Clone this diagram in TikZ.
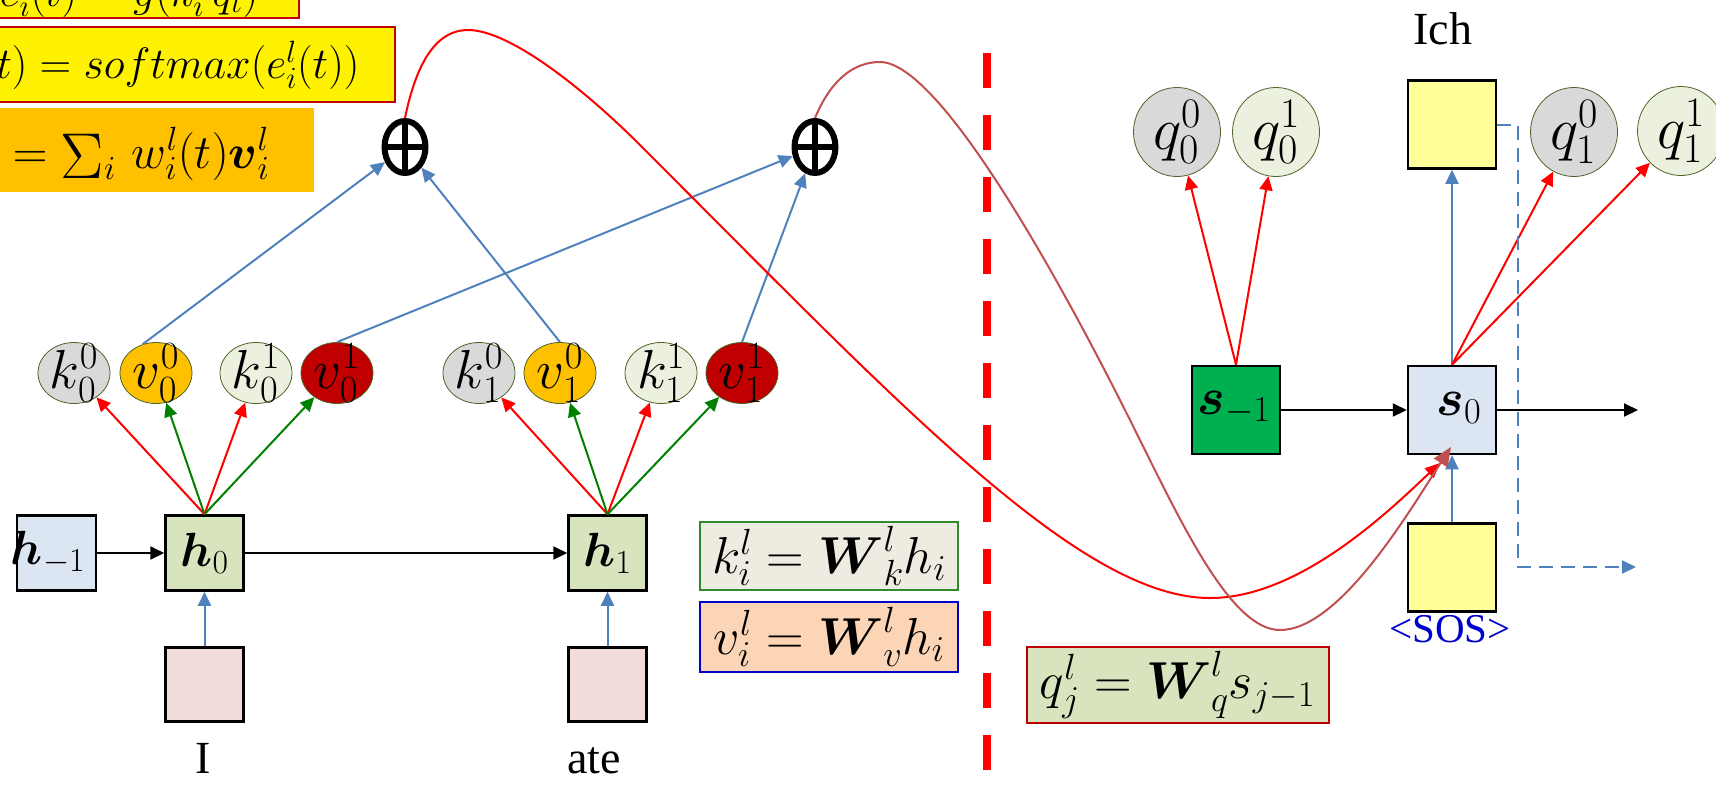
\documentclass[tikz,border=0pt]{standalone}
\usepackage{fix-cm}
\usepackage{amsmath}
\usepackage{fontspec}
\newfontfamily\tnr{Liberation Serif}
\usetikzlibrary{arrows.meta,shapes.geometric}
\newcommand\fsz[1]{\fontsize{#1}{#1}\selectfont}
\definecolor{cblue}{HTML}{4F81BD}
\definecolor{cred}{HTML}{FF0000}
\definecolor{cgreen}{HTML}{008000}
\definecolor{cbrown}{HTML}{C0504D}
\definecolor{kgray}{HTML}{D9D9D9}
\definecolor{vorange}{HTML}{FFC000}
\definecolor{klight}{HTML}{EBF1DE}
\definecolor{vdark}{HTML}{C00000}
\definecolor{olivec}{HTML}{4F6228}
\definecolor{hblue}{HTML}{DCE6F2}
\definecolor{hgreen}{HTML}{D7E4BD}
\definecolor{sgreen}{HTML}{00B050}
\definecolor{ylw}{HTML}{FFFF99}
\definecolor{pinkc}{HTML}{F2DCDB}
\definecolor{kboxc}{HTML}{EEECE1}
\definecolor{vboxc}{HTML}{FBD5B5}
\definecolor{kborder}{HTML}{2E8B2E}
\definecolor{sosblue}{HTML}{0000CC}
\begin{document}
\begin{tikzpicture}[x=1pt,y=-1pt,
  ell/.style={ellipse, draw=olivec, line width=0.8pt, minimum width=72pt, minimum height=61pt, inner sep=0pt},
  qel/.style={ellipse, draw=olivec, line width=0.8pt, minimum width=87pt, minimum height=89pt, inner sep=0pt},
  sqbox/.style={rectangle, draw=black, line width=2.5pt, inner sep=0pt},
  fbox/.style={rectangle, line width=2pt, inner sep=0pt},
  tip/.style={-{Triangle[length=14pt,width=13pt]}},
  blk/.style={tip, color=black, line width=2pt},
  blu/.style={tip, color=cblue, line width=2pt},
  rd/.style={tip, color=cred, line width=2pt},
  gr/.style={tip, color=cgreen, line width=2pt},
  oplus/.style={ellipse, draw=black, line width=6pt, minimum width=41pt, minimum height=52pt, inner sep=0pt,
    path picture={\draw[line width=6pt] (path picture bounding box.north) -- (path picture bounding box.south)
      (path picture bounding box.west) -- (path picture bounding box.east);}},
  elab/.style={inner sep=0pt, font=\fsz{55}},
  qlab/.style={inner sep=0pt, font=\fsz{60}},
  hlab/.style={font=\fsz{48}},
  slab/.style={font=\fsz{52}},
  wlab/.style={font=\tnr\fsz{46}},
]
\useasboundingbox (0,0) rectangle (1716,796);
\clip (0,0) rectangle (1716,796);

% ---------- top-left formula boxes ----------
\node[fbox, draw=vdark, fill=yellow, minimum width=420pt, minimum height=80pt, anchor=south east] (f1) at (300,19) {};
\node[anchor=base east, font=\fsz{44}] (f1t) at (262,6) {$e_i^l(t) = g(k_i^l\, q_t)$};
\node[fbox, draw=vdark, fill=yellow, minimum width=480pt, minimum height=75pt, anchor=north east] (f2) at (396,26) {};
\node[anchor=base east, font=\fsz{44}] (f2t) at (363,78) {$w_i^l(t) = softmax(e_i^l(t))$};
\node[fbox, fill=vorange, minimum width=420pt, minimum height=84pt, anchor=north east] (f3) at (315,107) {};
\node[anchor=base east, font=\fsz{48}] (f3t) at (273,168) {$c^l(t) = \mathop{\vcenter{\hbox{\scalebox{1.35}{$\Sigma$}}}}\nolimits_i\, w_i^l(t)\boldsymbol{v}_i^l$};

% ---------- red dashed separator ----------
\draw[cred, line width=8pt, dash pattern=on 35pt off 27pt] (987,53) -- (987,820);

% ---------- oplus nodes ----------
\node[oplus] (op1) at (405,147) {};
\node[oplus] (op2) at (815,147) {};

% ---------- key / value ellipses ----------
\node[ell, fill=kgray]   (k00) at (74,373) {};
\node[ell, fill=vorange] (v00) at (156,373) {};
\node[ell, fill=klight]  (k01) at (256,373) {};
\node[ell, fill=vdark]   (v01) at (337,373) {};
\node[ell, fill=kgray]   (k10) at (479,373) {};
\node[ell, fill=vorange] (v10) at (560,373) {};
\node[ell, fill=klight]  (k11) at (661,373) {};
\node[ell, fill=vdark]   (v11) at (742,373) {};
\node[elab] (k00t) at (k00) {$k_0^0$};
\node[elab] (v00t) at (v00) {$v_0^0$};
\node[elab] (k01t) at (k01) {$k_0^1$};
\node[elab] (v01t) at (v01) {$v_0^1$};
\node[elab] (k10t) at (k10) {$k_1^0$};
\node[elab] (v10t) at (v10) {$v_1^0$};
\node[elab] (k11t) at (k11) {$k_1^1$};
\node[elab] (v11t) at (v11) {$v_1^1$};

% ---------- encoder boxes ----------
\node[sqbox, fill=hblue,  minimum width=79pt, minimum height=75pt] (hm1) at (56.5,553) {};
\node[hlab] (hm1t) at (48,553) {$\boldsymbol{h}_{-1}$};
\node[sqbox, fill=hgreen, minimum width=78pt, minimum height=75pt] (h0) at (204.5,553) {};
\node[hlab] (h0t) at (h0) {$\boldsymbol{h}_0$};
\node[sqbox, fill=hgreen, minimum width=78pt, minimum height=75pt] (h1) at (607.5,553) {};
\node[hlab] (h1t) at (h1) {$\boldsymbol{h}_1$};
\node[sqbox, fill=pinkc, minimum width=78pt, minimum height=74pt] (xI) at (204.5,684.5) {};
\node[sqbox, fill=pinkc, minimum width=78pt, minimum height=74pt] (xate) at (607.5,684.5) {};
\node[wlab, anchor=base] (tI) at (203,773) {I};
\node[wlab, anchor=base] (tate) at (594,773) {ate};

\draw[blk] (hm1) -- (h0);
\draw[blk] (h0) -- (h1);
\draw[blu] (xI) -- (h0);
\draw[blu] (xate) -- (h1);

% fans
\draw[rd] (h0.north) -- (k00);
\draw[gr] (h0.north) -- (v00);
\draw[rd] (h0.north) -- (k01);
\draw[gr] (h0.north) -- (v01);
\draw[rd] (h1.north) -- (k10);
\draw[gr] (h1.north) -- (v10);
\draw[rd] (h1.north) -- (k11);
\draw[gr] (h1.north) -- (v11);

% values to oplus
\draw[blu] (v00.115) -- (op1);
\draw[blu] (v10.north) -- (op1);
\draw[blu] (v01.north) -- (op2);
\draw[blu] (v11.north) -- (op2);

% ---------- formula boxes ----------
\node[fbox, draw=kborder, fill=kboxc, minimum width=258pt, minimum height=68pt] (kf) at (829,556) {};
\node[font=\fsz{52}] (kft) at (kf) {$k_i^l = \boldsymbol{W}_k^l h_i$};
\node[fbox, draw=sosblue, fill=vboxc, minimum width=258pt, minimum height=70pt] (vf) at (829,637) {};
\node[font=\fsz{52}] (vft) at (vf) {$v_i^l = \boldsymbol{W}_v^l h_i$};
\node[fbox, draw=vdark, fill=hgreen, minimum width=302pt, minimum height=76pt] (qf) at (1177.5,685) {};
\node[font=\fsz{52}] (qft) at (qf) {$q_j^l = \boldsymbol{W}_q^l s_{j-1}$};

% ---------- decoder ----------
\node[qel, fill=kgray]  (q00) at (1177,132) {};
\node[qel, fill=klight] (q01) at (1276,132) {};
\node[qel, fill=kgray]  (q10) at (1574,132) {};
\node[qel, fill=klight] (q11) at (1681,131) {};
\node[qlab] (q00t) at (q00) {$q_0^0$};
\node[qlab] (q01t) at (q01) {$q_0^1$};
\node[qlab] (q10t) at (q10) {$q_1^0$};
\node[qlab] (q11t) at (q11) {$q_1^1$};

\node[sqbox, fill=sgreen, minimum width=88pt, minimum height=88pt] (sm1) at (1236,410) {};
\node[slab] (sm1t) at (1234,408) {$\boldsymbol{s}_{-1}$};
\node[sqbox, fill=hblue, minimum width=88pt, minimum height=88pt] (s0) at (1452,410) {};
\node[slab] (s0t) at (1459,408) {$\boldsymbol{s}_0$};
\node[sqbox, fill=ylw, minimum width=88pt, minimum height=88pt] (ich) at (1452,124.5) {};
\node[sqbox, fill=ylw, minimum width=88pt, minimum height=88pt] (sos) at (1452,567.5) {};
\node[wlab, anchor=base] (tich) at (1443,44) {Ich};
\node[font=\tnr\fsz{41}, text=sosblue, anchor=base] (tsos) at (1450,642) {<SOS>};

\coordinate (s0out) at (1638,410);
\coordinate (dashend) at (1636,567);
\draw[blk] (sm1) -- (s0);
\draw[blk] (s0) -- (s0out);
\draw[blu] (sos) -- (s0);
\draw[blu] (s0) -- (ich);
\draw[rd] (sm1.north) -- (q00);
\draw[rd] (sm1.north) -- (q01);
\draw[rd] (s0.north) -- (q10);
\draw[rd] (s0.north) -- (q11);
\draw[blu, dash pattern=on 14pt off 8pt] (ich.east) -- (1518,124.5) -- (1518,567) -- (dashend);

% ---------- attention curves ----------
\coordinate (redend) at (1440,463);
\coordinate (brownend) at (1451,447);
\draw[cred, line width=2pt, -{Triangle[length=15pt,width=13pt]}]
  (op1.north) .. controls (418,55) and (440,30) .. (468,30)
  .. controls (510,30) and (585,90) .. (640,145)
  .. controls (900,405) and (1080,598) .. (1210,598)
  .. controls (1300,598) and (1390,510) .. (redend);
\draw[cbrown, line width=2pt, -{Triangle[length=19pt,width=16pt]}]
  (op2.north) .. controls (830,82) and (852,62) .. (880,62)
  .. controls (937,62) and (1050,260) .. (1130,420)
  .. controls (1180,520) and (1230,630) .. (1280,630)
  .. controls (1340,630) and (1410,510) .. (brownend);
\end{tikzpicture}
\end{document}
